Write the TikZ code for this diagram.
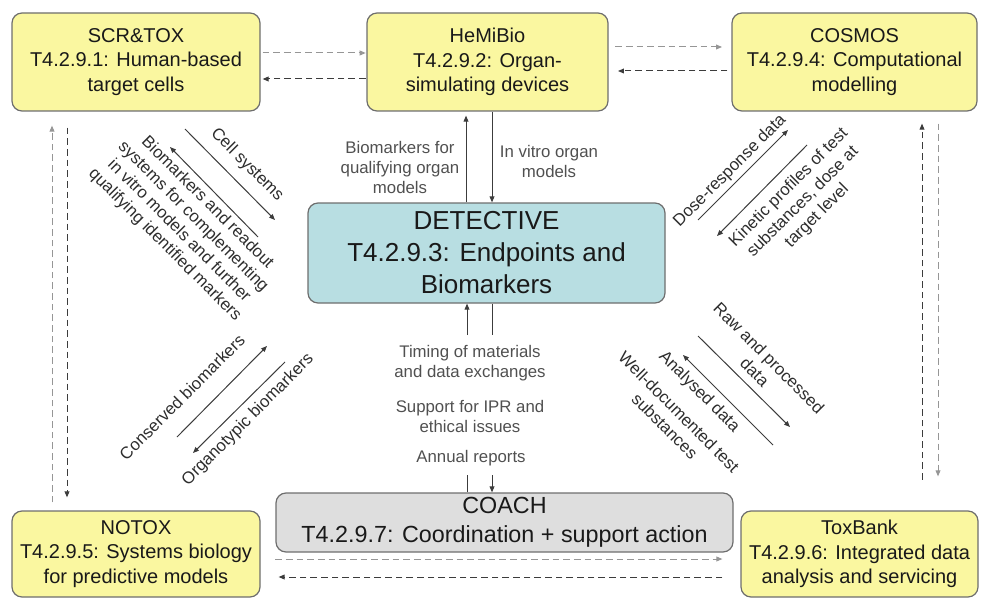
\documentclass[tikz,border=0pt]{standalone}
\usepackage{fontspec}
\setmainfont{Liberation Sans}
\usetikzlibrary{arrows.meta}
\definecolor{boxyellow}{RGB}{250,247,160}
\definecolor{boxteal}{RGB}{184,222,226}
\definecolor{boxgray}{RGB}{222,222,222}
\definecolor{boxedge}{RGB}{110,110,110}
\definecolor{lbl}{RGB}{80,80,80}
\definecolor{dlbl}{RGB}{45,45,45}
\definecolor{lightdash}{RGB}{150,150,150}
\definecolor{darkdash}{RGB}{60,60,60}
\tikzset{
  wp/.style={draw=boxedge, line width=0.9pt, rounded corners=7.5pt, align=center, inner sep=0pt, text=black!90},
  ybox/.style={wp, fill=boxyellow, font=\fontsize{15}{18.5}\selectfont},
  tip/.style={-{Triangle[length=4.5pt,width=3.6pt]}},
  conn/.style={draw=darkdash, line width=0.75pt},
  fwd/.style={conn, draw=lightdash, dash pattern=on 5pt off 3pt, tip},
  bwd/.style={conn, dash pattern=on 5pt off 3pt, tip},
  dfwd/.style={conn, draw=lightdash, dash pattern=on 5pt off 3pt},
  dbwd/.style={conn, dash pattern=on 5pt off 3pt},
  lab/.style={text=lbl, align=center, font=\fontsize{12.6}{15}\selectfont, inner sep=0pt},
  dlab/.style={text=dlbl, align=center, font=\fontsize{12.6}{15}\selectfont, inner sep=0pt},
}
\begin{document}
\begin{tikzpicture}[x=0.75pt, y=-0.75pt]
\useasboundingbox (0,0) rectangle (981,599);

% boxes
\node[ybox, minimum width=186pt, minimum height=73.5pt] (scr) at (136,62) {SCR\&TOX\\T4.2.9.1: Human-based\\target cells};
\node[ybox, minimum width=180.75pt, minimum height=73.5pt] (hemi) at (487.5,62) {HeMiBio\\T4.2.9.2: Organ-\\simulating devices};
\node[ybox, minimum width=183.75pt, minimum height=73.5pt] (cosmos) at (854.5,62) {COSMOS\\T4.2.9.4: Computational\\modelling};
\node[wp, fill=boxteal, minimum width=267.75pt, minimum height=75pt, font=\fontsize{19.5}{24}\selectfont] (det) at (486.5,253) {DETECTIVE\\T4.2.9.3: Endpoints and\\Biomarkers};
\node[ybox, minimum width=186pt, minimum height=64.5pt] (notox) at (136,554) {NOTOX\\T4.2.9.5: Systems biology\\for predictive models};
\node[wp, fill=boxgray, minimum width=342.75pt, minimum height=44.25pt, font=\fontsize{17.5}{21.75}\selectfont] (coach) at (504.5,522.5) {COACH\\T4.2.9.7: Coordination + support action};
\node[ybox, minimum width=177.75pt, minimum height=64.5pt] (toxbank) at (859.5,554) {ToxBank\\T4.2.9.6: Integrated data\\analysis and servicing};

% top dashed pairs
\draw[fwd, shorten <=1.5pt, shorten >=0.5pt] (scr.east |- 0,53) -- (hemi.west |- 0,53);
\draw[bwd, shorten <=0.5pt, shorten >=1.5pt] (hemi.west |- 0,79) -- (scr.east |- 0,79);
\draw[fwd, shorten <=5pt, shorten >=7pt] (hemi.east |- 0,47) -- (cosmos.west |- 0,47);
\draw[bwd, shorten <=3pt, shorten >=7pt] (cosmos.west |- 0,71) -- (hemi.east |- 0,71);

% left verticals
\draw[fwd, shorten <=6pt, shorten >=10.5pt] (notox.north -| 52,0) -- (scr.south -| 52,0);
\draw[bwd, shorten <=12pt, shorten >=9.75pt] (scr.south -| 67,0) -- (notox.north -| 67,0);
% right verticals
\draw[bwd, shorten <=23pt, shorten >=9pt] (toxbank.north -| 922,0) -- (cosmos.south -| 922,0);
\draw[fwd, shorten <=9pt, shorten >=25.5pt] (cosmos.south -| 938,0) -- (toxbank.north -| 938,0);

% bottom dashed pair
\draw[fwd, shorten <=11pt, shorten >=13.5pt] (notox.east |- 0,559) -- (toxbank.west |- 0,559);
\draw[bwd, shorten <=13.5pt, shorten >=13.5pt] (toxbank.west |- 0,577) -- (notox.east |- 0,577);

% HeMiBio <-> DETECTIVE
\draw[conn, tip, shorten >=3pt] (det.north -| 466,0) -- (hemi.south -| 466,0);
\draw[conn, tip] (hemi.south -| 492,0) -- (det.north -| 492,0);
\node[lab] (lbio) at (400,167) {Biomarkers for\\qualifying organ\\models};
\node[lab] (lvitro) at (549,161.5) {In vitro organ\\models};

% DETECTIVE <-> COACH
\coordinate (u1) at (467,335);
\coordinate (u2) at (492,335);
\coordinate (l1) at (467,475);
\coordinate (l2) at (492,475);
\draw[conn, tip] (u1) -- (det.south -| u1);
\draw[conn] (det.south -| u2) -- (u2);
\draw[conn] (coach.north -| l1) -- (l1);
\draw[conn, tip] (l2) -- (coach.north -| l2);
\node[lab] (ltiming) at (470,363) {Timing of materials\\and data exchanges};
\node[lab] (lipr) at (470,416) {Support for IPR and\\ethical issues};
\node[lab] (lannual) at (471,458) {Annual reports};

% upper-left diagonals
\coordinate (a1s) at (185,129); \coordinate (a1e) at (275,220);
\coordinate (a2s) at (258,237); \coordinate (a2e) at (170,147);
\draw[conn, tip] (a1s) -- (a1e);
\draw[conn, tip] (a2s) -- (a2e);
\node[dlab, rotate=-45] (lcell) at (247,165) {Cell systems};
\node[dlab, rotate=-45] (lbiomark) at (186,224) {Biomarkers and readout\\systems for complementing\\in vitro models and further\\qualifying identified markers};

% upper-right diagonals
\coordinate (b1s) at (698,220); \coordinate (b1e) at (788,130);
\coordinate (b2s) at (807,145); \coordinate (b2e) at (717,236);
\draw[conn, tip] (b1s) -- (b1e);
\draw[conn, tip] (b2s) -- (b2e);
\node[dlab, rotate=45] (ldose) at (730,171) {Dose-response data};
\node[dlab, rotate=45] (lkin) at (803,202) {Kinetic profiles of test\\substances, dose at\\target level};

% lower-left diagonals
\coordinate (c1s) at (177,437); \coordinate (c1e) at (267,346);
\coordinate (c2s) at (285,362); \coordinate (c2e) at (193,453);
\draw[conn, tip] (c1s) -- (c1e);
\draw[conn, tip] (c2s) -- (c2e);
\node[dlab, rotate=45] (lcons) at (182,397) {Conserved biomarkers};
\node[dlab, rotate=45] (lorgano) at (248,420) {Organotypic biomarkers};

% lower-right diagonals
\coordinate (d1s) at (698,336); \coordinate (d1e) at (790,427);
\coordinate (d2s) at (773,445); \coordinate (d2e) at (683,355);
\draw[conn, tip] (d1s) -- (d1e);
\draw[conn, tip] (d2s) -- (d2e);
\node[dlab, rotate=-45] (lraw) at (762,365) {Raw and processed\\data};
\node[dlab, rotate=-45] (lanal) at (699,392) {Analysed data};
\node[dlab, rotate=-45] (lwell) at (672,419) {Well-documented test\\substances};
\end{tikzpicture}
\end{document}
